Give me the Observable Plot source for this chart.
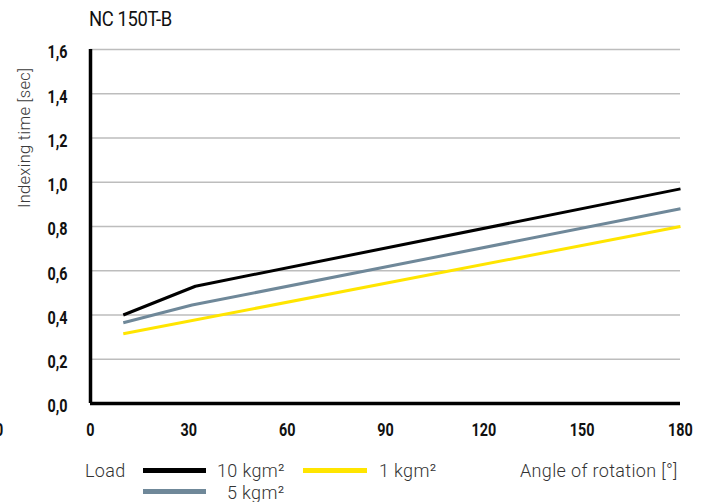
<!DOCTYPE html>
<html>
<head>
<meta charset="utf-8">
<script src="https://cdn.jsdelivr.net/npm/d3@7"></script>
<script src="https://cdn.jsdelivr.net/npm/@observablehq/plot@0.6"></script>
<style>
  html, body { margin: 0; padding: 0; background: #fff; }
  #wrap { position: relative; width: 707px; height: 502px; overflow: hidden; }
  #chart { position: absolute; left: 0; top: 0; }
  .cond { font-family: Roboto, sans-serif; letter-spacing: -0.4px; }
  .light { font-family: Roboto, "Liberation Sans", sans-serif; font-weight: 300; color: #333; }
  #title { position: absolute; left: 89px; top: 7px; font-size: 20px; color: #111; white-space: nowrap; transform-origin: 0 0; transform: scaleX(0.92); }
  #ylabel { position: absolute; left: 25px; top: 48px; transform-origin: 0 0; transform: translate(-10px, 160px) rotate(-90deg); font-size: 16.5px; white-space: nowrap; letter-spacing: 0.3px; color: #3a3a3a; }
  .lg { position: absolute; font-size: 18px; white-space: nowrap; line-height: 1; letter-spacing: 0.35px; }
  .sw { position: absolute; height: 5px; }
</style>
</head>
<body>
<div id="wrap">
  <div id="chart"></div>
  <div id="title" class="cond">NC 150T-B</div>
  <div id="ylabel" class="light">Indexing time [sec]</div>
  <div id="legend"></div>
</div>
<script>
// Data
const angles10 = [10, 32, 180];
const time10 = [0.40, 0.53, 0.97];
const angles5 = [10, 31, 180];
const time5 = [0.365, 0.445, 0.88];
const angles1 = [10, 180];
const time1 = [0.315, 0.80];
const xTicks = [-30, 0, 30, 60, 90, 120, 150, 180];
const yTicks = [0, 0.2, 0.4, 0.6, 0.8, 1.0, 1.2, 1.4, 1.6];
const seriesNames = ["10 kgm²", "5 kgm²", "1 kgm²"];
const seriesColors = ["#000000", "#6f8899", "#ffe500"];

const toRows = (xs, ys, name) => xs.map((x, i) => ({angle: x, time: ys[i], load: name}));
const rows = [
  ...toRows(angles10, time10, seriesNames[0]),
  ...toRows(angles5, time5, seriesNames[1]),
  ...toRows(angles1, time1, seriesNames[2])
];

const plot = Plot.plot({
  width: 707,
  height: 450,
  marginTop: 49,
  marginBottom: 47,
  marginLeft: 90,
  marginRight: 27,
  style: {fontFamily: 'Roboto, sans-serif', fontSize: "18px", color: "#111", background: "transparent"},
  x: {domain: [0, 180]},
  y: {domain: [0, 1.6]},
  color: {domain: seriesNames, range: seriesColors},
  marks: [
    Plot.gridY(yTicks.filter(d => d > 0), {stroke: "#bdbdbd", strokeOpacity: 1, strokeWidth: 1.5}),
    Plot.line(rows, {x: "angle", y: "time", z: "load", stroke: "load", strokeWidth: 3, strokeLinejoin: "miter", strokeLinecap: "butt"}),
    Plot.ruleY([0], {stroke: "#000", strokeWidth: 3.5}),
    Plot.ruleX([0], {stroke: "#000", strokeWidth: 3.5}),
    Plot.axisY({ticks: yTicks, tickSize: 0, tickPadding: 23, dy: 3, fontSize: 18, fontWeight: "bold", label: null,
      tickFormat: d => d.toFixed(1).replace(".", ",")}),
    Plot.axisX({ticks: xTicks, tickSize: 0, tickPadding: 20, fontSize: 18, fontWeight: "bold", label: null,
      tickFormat: d => String(d)})
  ]
});
document.getElementById("chart").appendChild(plot);

// Condense tick labels horizontally (the reference uses a condensed face)
const SX = 0.8;
d3.select(plot).selectAll('g[aria-label$="tick label"] text').each(function() {
  const t = this.getAttribute("transform") || "";
  const xa = this.getAttribute("x");
  if (xa !== null && isFinite(+xa)) this.setAttribute("x", (+xa) / SX);
  this.setAttribute("transform", `${t} scale(${SX},1)`);
});

// Legend
const legend = document.getElementById("legend");
function addText(txt, left, top) {
  const d = document.createElement("div");
  d.className = "lg light";
  d.style.left = left + "px";
  d.style.top = top + "px";
  d.textContent = txt;
  legend.appendChild(d);
  return d;
}
function addSwatch(color, left, top, w) {
  const d = document.createElement("div");
  d.className = "sw";
  d.style.left = left + "px";
  d.style.top = top + "px";
  d.style.width = w + "px";
  d.style.background = color;
  legend.appendChild(d);
}
addText("Load", 85, 462);
addSwatch(seriesColors[0], 143, 468, 63);
addText(seriesNames[0], 217, 462);
addSwatch(seriesColors[2], 303, 468, 64);
addText(seriesNames[2], 379, 462);
addText("Angle of rotation [°]", 520, 462);
addSwatch(seriesColors[1], 143, 489, 63);
addText(seriesNames[1], 227, 484);
</script>
</body>
</html>
